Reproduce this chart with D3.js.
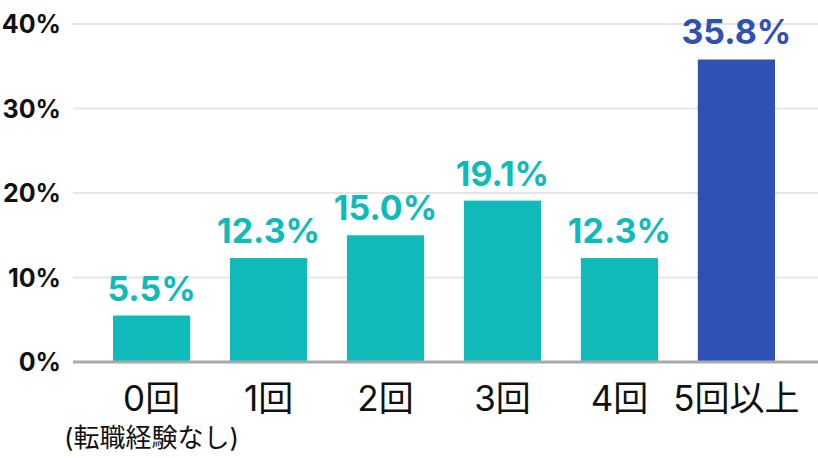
<!DOCTYPE html>
<html>
<head>
  <meta charset="utf-8">
  <title></title>
  <style type="text/css">
    body {
      margin: 0;
      background-color: white;
    }

    svg {
      display: block;
      font-family: Inter, "Noto Sans CJK JP", sans-serif;
    }

    .grid line {
      stroke: #e6e6e6;
      stroke-width: 2px;
    }

    .baseline {
      stroke: #a9a9a9;
      stroke-width: 3px;
    }

    .ytick {
      font-size: 25px;
      font-weight: 700;
      fill: #111;
    }

    .value {
      font-size: 34px;
      font-weight: 700;
    }

    .cat {
      font-size: 35px;
      fill: #111;
    }

    .sub {
      font-size: 26px;
      fill: #111;
    }
  </style>
</head>
<body>
  <div class="chart"></div>

  <script type="text/javascript" src="https://cdn.jsdelivr.net/npm/d3@7"></script>
  <script type="text/javascript">

    var categories = ['0回', '1回', '2回', '3回', '4回', '5回以上'];
    var subLabels = ['(転職経験なし)', '', '', '', '', ''];
    var values = [5.5, 12.3, 15.0, 19.1, 12.3, 35.8];
    var yTicks = [0, 10, 20, 30, 40];

    var width = 818;
    var height = 458;

    var teal = '#0fbab9';
    var blue = '#2f51b4';

    var svg = d3.select('.chart').append('svg')
      .attr('width', width).attr('height', height);

    var x = d3.scaleBand()
      .domain(categories)
      .range([113, 775])
      .paddingInner(0.34)
      .paddingOuter(0);

    var y = d3.scaleLinear()
      .domain([0, 40])
      .range([362, 24]);

    // grid lines
    svg.append('g').attr('class', 'grid')
      .selectAll('line')
      .data(yTicks.slice(1)).enter().append('line')
        .attr('x1', 73)
        .attr('x2', width)
        .attr('y1', function (d) { return y(d); })
        .attr('y2', function (d) { return y(d); });

    svg.append('g')
      .selectAll('text')
      .data(yTicks).enter().append('text')
        .attr('class', 'ytick')
        .attr('x', 61)
        .attr('y', function (d) { return y(d); })
        .attr('dy', '0.36em')
        .style('text-anchor', 'end')
        .text(function (d) { return d + '%'; });

    // bars
    svg.append('g')
      .selectAll('rect')
      .data(values).enter().append('rect')
        .attr('x', function (d, i) { return x(categories[i]); })
        .attr('y', function (d) { return y(d); })
        .attr('width', x.bandwidth())
        .attr('height', function (d) { return y(0) - y(d); })
        .style('fill', function (d, i) { return i === values.length - 1 ? blue : teal; });

    svg.append('line')
      .attr('class', 'baseline')
      .attr('x1', 73)
      .attr('x2', width)
      .attr('y1', y(0))
      .attr('y2', y(0));

    // value labels
    svg.append('g')
      .selectAll('text')
      .data(values).enter().append('text')
        .attr('class', 'value')
        .attr('x', function (d, i) { return x(categories[i]) + x.bandwidth() / 2; })
        .attr('y', function (d) { return y(d) - 15; })
        .style('text-anchor', 'middle')
        .style('fill', function (d, i) { return i === values.length - 1 ? blue : teal; })
        .text(function (d) { return d.toFixed(1) + '%'; });

    // category labels
    svg.append('g')
      .selectAll('text')
      .data(categories).enter().append('text')
        .attr('class', 'cat')
        .attr('x', function (d) { return x(d) + x.bandwidth() / 2; })
        .attr('y', 411)
        .style('text-anchor', 'middle')
        .text(function (d) { return d; });

    svg.append('g')
      .selectAll('text')
      .data(subLabels).enter().append('text')
        .attr('class', 'sub')
        .attr('x', function (d, i) { return x(categories[i]) + x.bandwidth() / 2; })
        .attr('y', 447)
        .style('text-anchor', 'middle')
        .text(function (d) { return d; });
  </script>
</body>
</html>
